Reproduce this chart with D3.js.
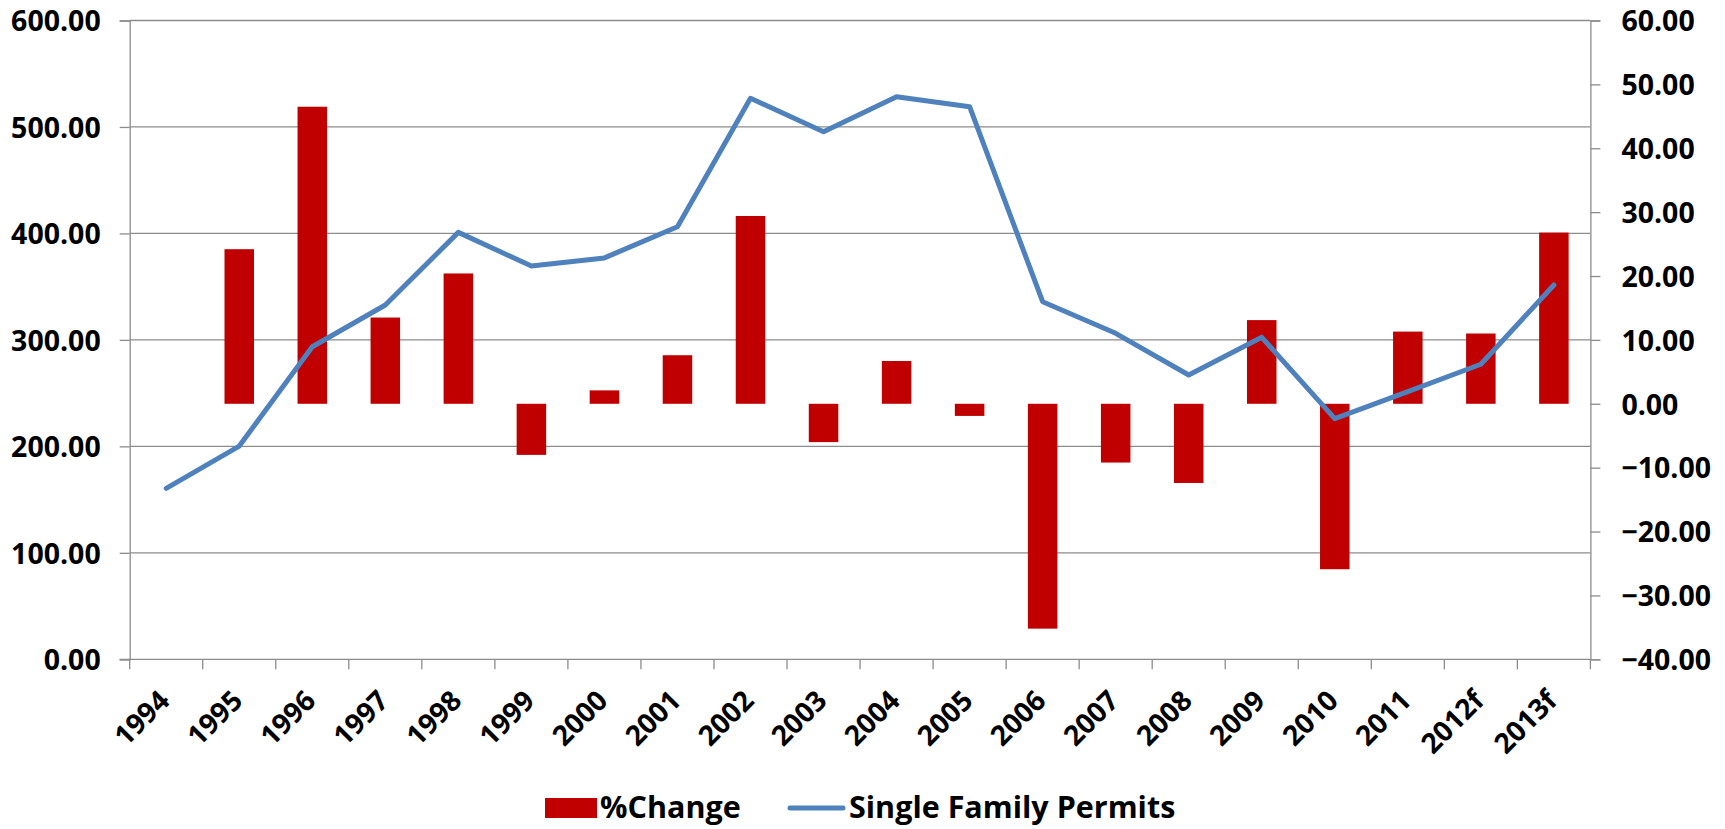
<!DOCTYPE html>
<html>
<head>
<meta charset="utf-8">
<script src="https://cdn.jsdelivr.net/npm/d3@7"></script>
<style>
  body { margin: 0; background: #fff; }
  text { font-family: "Open Sans", sans-serif; font-weight: bold; fill: #000; }
</style>
</head>
<body>
<div class="container"></div>
<script>
const years = ['1994','1995','1996','1997','1998','1999','2000','2001','2002','2003',
  '2004','2005','2006','2007','2008','2009','2010','2011','2012f','2013f'];
// %Change (right axis)
const pctChange = [null, 24.2, 46.5, 13.5, 20.4, -8.0, 2.1, 7.6, 29.4, -6.0,
  6.7, -1.9, -35.2, -9.2, -12.4, 13.1, -25.9, 11.3, 11.0, 26.8];
// Single Family Permits (left axis)
const permits = [160.6, 200.3, 293.6, 332.8, 401.0, 369.4, 377.0, 406.3, 526.9, 495.5,
  528.4, 519.0, 335.9, 306.2, 267.0, 302.4, 226.0, 251.4, 277.1, 351.6];
const leftTicks = [0, 100, 200, 300, 400, 500, 600];
const rightTicks = [-40, -30, -20, -10, 0, 10, 20, 30, 40, 50, 60];

const w = 1725;
const h = 829;
const plot = { left: 129.7, right: 1590.4, top: 20.5, bottom: 659.3 };
const gridColor = '#8c8c8c';

const svg = d3.select('.container').append('svg')
    .attr('width', w)
    .attr('height', h);

const x = d3.scaleBand()
    .domain(years)
    .range([plot.left, plot.right])
    .padding(0);

const yLeft = d3.scaleLinear()
    .domain([0, 600])
    .range([plot.bottom, plot.top]);

const yRight = d3.scaleLinear()
    .domain([-40, 60])
    .range([plot.bottom, plot.top]);

// gridlines
svg.append('g')
  .selectAll('line')
  .data(leftTicks.filter(d => d > 0))
  .join('line')
    .attr('x1', plot.left)
    .attr('x2', plot.right)
    .attr('y1', d => yLeft(d))
    .attr('y2', d => yLeft(d))
    .attr('stroke', gridColor)
    .attr('stroke-width', 1.3);

// left axis
const leftAxis = svg.append('g')
    .attr('transform', `translate(${plot.left},0)`)
    .call(d3.axisLeft(yLeft).tickValues(leftTicks).tickFormat(d3.format('.2f'))
      .tickSize(10).tickPadding(19));

// right axis
const rightAxis = svg.append('g')
    .attr('transform', `translate(${plot.right},0)`)
    .call(d3.axisRight(yRight).tickValues(rightTicks).tickFormat(d3.format('.2f'))
      .tickSize(10).tickPadding(21));

[leftAxis, rightAxis].forEach(g => {
  g.select('.domain').attr('stroke', gridColor).attr('stroke-width', 1.3);
  g.selectAll('.tick line').attr('stroke', gridColor).attr('stroke-width', 1.3);
  g.selectAll('.tick text')
    .style('font-size', '28.5px')
    .attr('fill', '#000')
    .attr('dy', '0.36em');
});

// bars
const barW = x.bandwidth() * 0.404;
svg.append('g')
  .selectAll('rect')
  .data(years.map((y, i) => ({ year: y, v: pctChange[i] })).filter(d => d.v !== null))
  .join('rect')
    .attr('x', d => x(d.year) + (x.bandwidth() - barW) / 2)
    .attr('width', barW)
    .attr('y', d => yRight(Math.max(0, d.v)))
    .attr('height', d => Math.abs(yRight(d.v) - yRight(0)))
    .attr('fill', '#c00000');

// bottom axis (category boundaries)
const bottom = svg.append('g')
    .attr('transform', `translate(0,${plot.bottom})`);
bottom.append('line')
    .attr('x1', plot.left - 10)
    .attr('x2', plot.right)
    .attr('stroke', gridColor)
    .attr('stroke-width', 1.3);
bottom.selectAll('.bt')
  .data(years.map(d => x(d)).concat([plot.right]))
  .join('line')
    .attr('class', 'bt')
    .attr('x1', d => d)
    .attr('x2', d => d)
    .attr('y1', 0)
    .attr('y2', 10)
    .attr('stroke', gridColor)
    .attr('stroke-width', 1.3);

bottom.selectAll('text')
  .data(years)
  .join('text')
    .attr('transform', d => `translate(${x(d) + x.bandwidth() / 2 + 5},${43}) rotate(-45)`)
    .attr('text-anchor', 'end')
    .style('font-size', '28px')
    .text(d => d);

// line
const line = d3.line()
    .x((d, i) => x(years[i]) + x.bandwidth() / 2)
    .y(d => yLeft(d));

svg.append('path')
    .datum(permits)
    .attr('d', line)
    .attr('fill', 'none')
    .attr('stroke', '#4f81bd')
    .attr('stroke-width', 5)
    .attr('stroke-linejoin', 'round')
    .attr('stroke-linecap', 'round');

// legend
const legend = svg.append('g');
legend.append('rect')
    .attr('x', 545)
    .attr('y', 798)
    .attr('width', 52)
    .attr('height', 20)
    .attr('fill', '#c00000');
legend.append('text')
    .attr('x', 600)
    .attr('y', 818)
    .style('font-size', '30.5px')
    .text('%Change');
legend.append('line')
    .attr('x1', 790)
    .attr('x2', 843)
    .attr('y1', 808)
    .attr('y2', 808)
    .attr('stroke', '#4f81bd')
    .attr('stroke-width', 5)
    .attr('stroke-linecap', 'round');
legend.append('text')
    .attr('x', 849)
    .attr('y', 818)
    .style('font-size', '30.5px')
    .text('Single Family Permits');
</script>
</body>
</html>
